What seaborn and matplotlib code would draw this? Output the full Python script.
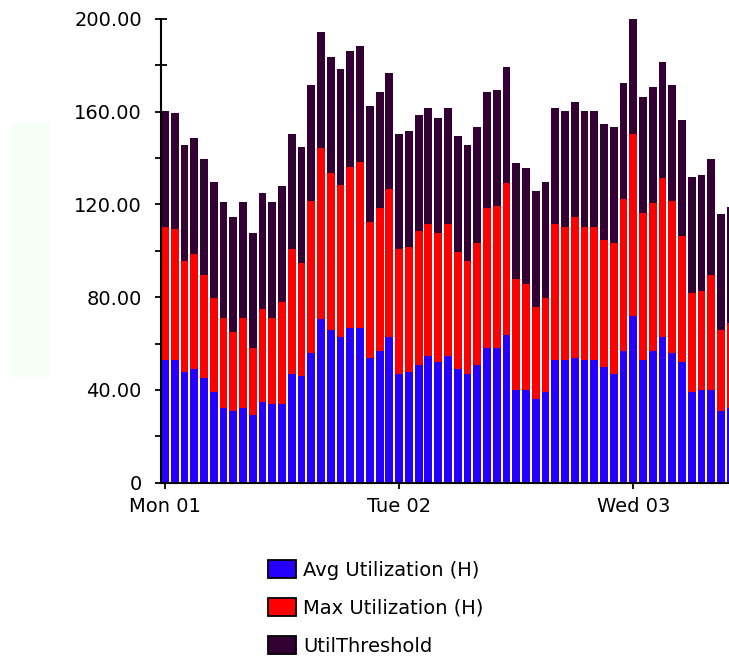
import numpy as np
import pandas as pd
import matplotlib
matplotlib.use("Agg")
import matplotlib.pyplot as plt
from matplotlib.patches import Rectangle
from matplotlib.ticker import MultipleLocator
import seaborn as sns

# ---- data (hourly, starting Mon 01 00:00) ----
avg_util = [52.9, 52.9, 47.9, 48.9, 45.0, 39.0, 32.1, 31.1, 32.1, 29.2,
            34.9, 33.9, 33.9, 46.9, 46.0, 55.8, 70.6, 65.9, 62.7, 66.9,
            66.9, 53.9, 56.9, 62.7, 46.9, 47.9, 50.8, 54.8, 51.9, 54.8,
            48.9, 46.9, 50.8, 57.9, 57.9, 63.7, 40.0, 40.0, 36.1, 39.0,
            52.9, 52.9, 53.9, 52.9, 52.9, 50.0, 46.9, 56.9, 71.9, 52.9,
            56.9, 62.7, 55.8, 51.9, 39.0, 40.0, 40.0, 31.1, 32.1]
max_util = [57.5, 56.5, 47.7, 49.6, 44.6, 40.8, 38.8, 33.7, 38.8, 28.7,
            39.9, 37.0, 43.9, 53.7, 48.6, 65.7, 73.6, 67.5, 65.7, 69.4,
            71.3, 58.7, 61.4, 63.8, 53.7, 53.6, 57.8, 56.6, 55.6, 56.6,
            50.7, 48.7, 52.7, 60.4, 61.4, 65.7, 47.7, 45.7, 39.5, 40.8,
            58.5, 57.5, 60.5, 57.5, 57.5, 54.7, 56.6, 65.5, 78.4, 63.6,
            63.6, 68.6, 65.7, 54.6, 42.7, 42.7, 49.6, 34.8, 36.6]
util_threshold = [50.0] * len(avg_util)
hours = list(range(len(avg_util)))

day_ticks = [0, 24, 48]
day_labels = ["Mon 01", "Tue 02", "Wed 03"]
y_ticks = [0, 40, 80, 120, 160, 200]
y_tick_labels = ["0", "40.00", "80.00", "120.00", "160.00", "200.00"]

series_names = ["Avg Utilization (H)", "Max Utilization (H)", "UtilThreshold"]
series_colors = ["#2600FF", "#FF0000", "#330033"]

df = pd.DataFrame({"hour": hours, "avg": avg_util, "max": max_util,
                   "thr": util_threshold})
df["top_avg"] = df["avg"]
df["top_max"] = df["avg"] + df["max"]
df["top_thr"] = df["top_max"] + df["thr"]

sns.set_style("white")
plt.rcParams["font.family"] = ["DejaVu Sans"]
plt.rcParams["text.color"] = "black"
plt.rcParams["xtick.color"] = "black"
plt.rcParams["ytick.color"] = "black"
plt.rcParams["xtick.labelcolor"] = "black"
plt.rcParams["ytick.labelcolor"] = "black"

W, H = 729, 660
fig = plt.figure(figsize=(W / 100, H / 100), dpi=100)

# faint green panel at left
fig.patches.append(Rectangle((12 / W, 1 - 377 / H), 38 / W, 254 / H,
                             transform=fig.transFigure, facecolor="#F6FFF6",
                             edgecolor="none", zorder=0))

left_px, right_px = 160.6, 735.2
bottom_px, top_px = 482.7, 19.0
ax = fig.add_axes([left_px / W, 1 - bottom_px / H,
                   (right_px - left_px) / W, (bottom_px - top_px) / H])

bw = 0.8
for col, color in zip(["top_thr", "top_max", "top_avg"],
                      [series_colors[2], series_colors[1], series_colors[0]]):
    sns.barplot(data=df, x="hour", y=col, color=color, width=bw,
                saturation=1, ax=ax, native_scale=True, edgecolor="none",
                linewidth=0)

ax.set_xlim(-0.45, 58.45)
ax.set_ylim(0, 200)
ax.set_xlabel("")
ax.set_ylabel("")
ax.set_xticks(day_ticks)
ax.set_xticklabels(day_labels)
ax.set_yticks(y_ticks)
ax.set_yticklabels(y_tick_labels)
ax.yaxis.set_minor_locator(MultipleLocator(20))

for s in ["top", "right"]:
    ax.spines[s].set_visible(False)
for s in ["left", "bottom"]:
    ax.spines[s].set_color("black")
    ax.spines[s].set_linewidth(1.5)

ax.tick_params(axis="y", which="both", direction="inout", length=9,
               width=1.3, color="black", left=True)
ax.tick_params(axis="y", which="major", labelsize=14, pad=9,
               labelcolor="black")
ax.tick_params(axis="x", which="major", direction="inout", length=9,
               width=1.3, color="black", labelsize=14, pad=6,
               bottom=True, labelcolor="black")

handles = [Rectangle((0, 0), 1, 1, facecolor=c, edgecolor="black",
                     linewidth=1.3) for c in series_colors]
leg = fig.legend(handles, series_names, loc="upper left",
                 bbox_to_anchor=(268 / W, 1 - 560 / H), frameon=False,
                 fontsize=14, handlelength=1.45, handleheight=1.05,
                 handletextpad=0.35, labelspacing=0.95, borderpad=0,
                 borderaxespad=0)
for t in leg.get_texts():
    t.set_color("black")

fig.savefig("out.png", dpi=100)
